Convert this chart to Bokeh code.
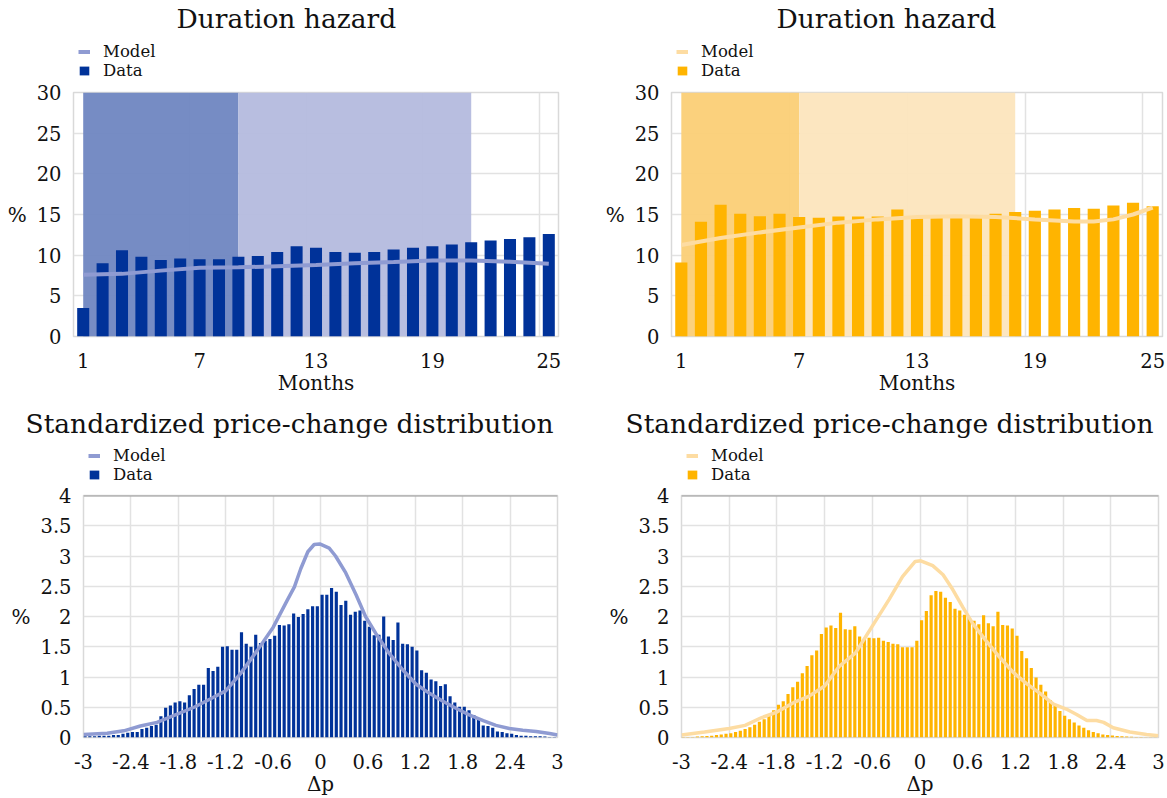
from bokeh.plotting import figure
from bokeh.layouts import column, row
from bokeh.models import Legend, LegendItem, FixedTicker, Span, Range1d
from bokeh.embed import file_html
from bokeh.resources import INLINE
import numpy as np

FONT = "DejaVu Serif"

# ---------------- data ----------------
months = list(range(1, 26))
month_ticks = [1, 7, 13, 19, 25]
month_grid = [0.5, 6.5, 12.5, 18.5, 24.5]
pct_ticks = [0, 5, 10, 15, 20, 25, 30]

# left (blue) duration hazard
hazard_data_blue = [3.5, 9.0, 10.6, 9.8, 9.4, 9.6, 9.5, 9.5, 9.8, 9.9,
                    10.4, 11.1, 10.9, 10.4, 10.3, 10.4, 10.7, 10.9, 11.1, 11.3,
                    11.6, 11.8, 12.0, 12.2, 12.6]
hazard_model_blue_x = [1, 3, 5, 7, 9, 11, 13, 15, 17, 19, 21, 23, 25]
hazard_model_blue = [7.6, 7.7, 8.1, 8.45, 8.5, 8.65, 8.8, 9.0, 9.15, 9.35, 9.35, 9.2, 8.95]
shade_blue_left = [1, 9]
shade_blue_right = [9, 21]

# right (yellow) duration hazard
hazard_data_yellow = [9.1, 14.1, 16.2, 15.1, 14.8, 15.1, 14.7, 14.6, 14.75, 14.75,
                      14.75, 15.6, 14.8, 14.75, 14.9, 14.8, 15.1, 15.3, 15.45, 15.6,
                      15.8, 15.7, 16.1, 16.45, 16.0]
hazard_model_yellow_x = [1, 3, 5, 7, 9, 11, 13, 15, 17, 19, 21, 22, 23, 24, 25]
hazard_model_yellow = [11.25, 12.1, 12.8, 13.4, 14.0, 14.4, 14.7, 14.8, 14.7, 14.4,
                       14.15, 14.15, 14.4, 15.0, 15.85]
shade_yellow_left = [1, 7]
shade_yellow_right = [7, 18]

# standardized price-change distribution
dp_ticks = [-3, -2.4, -1.8, -1.2, -0.6, 0, 0.6, 1.2, 1.8, 2.4, 3]
dp_labels = ["-3", "-2.4", "-1.8", "-1.2", "-0.6", "0", "0.6", "1.2", "1.8", "2.4", "3"]
dens_ticks = [0, 0.5, 1, 1.5, 2, 2.5, 3, 3.5, 4]
dens_labels = ["0", "0.5", "1", "1.5", "2", "2.5", "3", "3.5", "4"]
dp_bins = np.round(-2.98 + 0.06 * np.arange(100), 2)

dist_data_blue = [0.02, 0.02, 0.02, 0.03, 0.03, 0.03, 0.04, 0.04, 0.06, 0.08,
                  0.09, 0.09, 0.14, 0.16, 0.19, 0.21, 0.35, 0.49, 0.53, 0.58,
                  0.60, 0.58, 0.70, 0.80, 0.87, 0.87, 1.15, 1.10, 1.17, 1.50,
                  1.51, 1.45, 1.45, 1.74, 1.55, 1.50, 1.70, 1.56, 1.60, 1.63,
                  1.68, 1.86, 1.85, 1.87, 2.05, 1.99, 2.04, 2.12, 2.17, 2.17,
                  2.36, 2.36, 2.47, 2.41, 2.19, 2.26, 2.03, 2.08, 2.10, 1.93,
                  1.83, 1.69, 1.70, 2.00, 1.67, 1.61, 1.90, 1.55, 1.54, 1.50,
                  1.44, 1.11, 1.07, 0.96, 0.93, 0.85, 0.88, 0.68, 0.58, 0.51,
                  0.51, 0.45, 0.37, 0.32, 0.20, 0.19, 0.16, 0.10, 0.09, 0.07,
                  0.06, 0.04, 0.03, 0.03, 0.02, 0.02, 0.02, 0.015, 0.01, 0.01]
dist_model_blue_x = [-3.0, -2.70, -2.49, -2.28, -2.07, -1.86, -1.60, -1.39, -1.20, -1.01,
                     -0.80, -0.60, -0.42, -0.33, -0.25, -0.16, -0.08, -0.01, 0.11, 0.19,
                     0.32, 0.45, 0.57, 0.70, 0.87, 1.04, 1.21, 1.38, 1.55, 1.72,
                     1.89, 2.06, 2.22, 2.39, 2.56, 2.73, 2.90, 3.0]
dist_model_blue = [0.05, 0.07, 0.11, 0.19, 0.25, 0.36, 0.50, 0.64, 0.77, 1.06,
                   1.44, 1.82, 2.27, 2.49, 2.79, 3.07, 3.19, 3.20, 3.13, 3.00,
                   2.72, 2.36, 2.00, 1.72, 1.39, 1.12, 0.88, 0.73, 0.60, 0.48,
                   0.37, 0.28, 0.20, 0.15, 0.12, 0.10, 0.066, 0.04]

dist_data_yellow = [0.01, 0.01, 0.01, 0.015, 0.02, 0.025, 0.03, 0.04, 0.05, 0.06,
                    0.07, 0.09, 0.11, 0.14, 0.17, 0.21, 0.26, 0.30, 0.36, 0.45,
                    0.54, 0.60, 0.72, 0.83, 0.92, 1.06, 1.18, 1.36, 1.44, 1.71,
                    1.82, 1.85, 1.81, 2.06, 1.79, 1.78, 1.84, 1.67, 1.63, 1.65,
                    1.64, 1.65, 1.60, 1.58, 1.55, 1.54, 1.49, 1.49, 1.49, 1.60,
                    1.94, 2.09, 2.35, 2.42, 2.41, 2.31, 2.24, 2.13, 2.10, 2.03,
                    1.99, 1.93, 1.87, 2.02, 1.89, 1.84, 2.08, 1.86, 1.85, 1.80,
                    1.68, 1.43, 1.31, 1.15, 0.99, 0.87, 0.76, 0.62, 0.53, 0.44,
                    0.36, 0.30, 0.25, 0.20, 0.16, 0.12, 0.09, 0.07, 0.05, 0.04,
                    0.035, 0.025, 0.02, 0.015, 0.012, 0.01, 0.008, 0.006, 0.005, 0.004]
dist_model_yellow_x = [-3.0, -2.71, -2.4, -2.2, -1.99, -1.8, -1.57, -1.4, -1.2, -1.02,
                       -0.81, -0.6, -0.39, -0.22, -0.06, 0.01, 0.16, 0.29, 0.41, 0.54,
                       0.67, 0.83, 1.0, 1.17, 1.34, 1.51, 1.68, 1.84, 1.97, 2.1,
                       2.22, 2.31, 2.43, 2.64, 2.85, 3.0]
dist_model_yellow = [0.04, 0.09, 0.15, 0.20, 0.33, 0.42, 0.59, 0.68, 0.85, 1.17,
                     1.40, 1.84, 2.28, 2.66, 2.91, 2.92, 2.84, 2.69, 2.45, 2.15,
                     1.87, 1.60, 1.33, 1.08, 0.89, 0.73, 0.55, 0.47, 0.38, 0.28,
                     0.28, 0.25, 0.16, 0.09, 0.05, 0.03]

BLUE = "#003299"
BLUE_MODEL = "#8f9bd2"
BLUE_SHADES = ["#6f86c1", "#b4bbde"]
YELLOW = "#ffb400"
YELLOW_MODEL = "#fddca2"
YELLOW_SHADES = ["#fbcf76", "#fce5bd"]

TEXT = "#111111"


def header_fig(width, height, bl, br, title, title_offset, x, y_model, y_data, xm, bar_w,
               color, mcolor):
    """Title and legend strip drawn above a chart (its own glyphs lie outside its view)."""
    h = figure(width=width, height=height, x_range=Range1d(0, 1), y_range=Range1d(1000, 1001),
               output_backend="svg", toolbar_location=None,
               x_axis_type=None, y_axis_type=None,
               min_border_left=bl, min_border_right=br,
               min_border_top=0, min_border_bottom=0)
    h.outline_line_color = None
    h.grid.visible = False
    h.title.text = title
    h.title.align = "left"
    h.title.offset = title_offset
    h.title.standoff = 0
    h.title.text_font = FONT
    h.title.text_font_size = "26.5px"
    h.title.text_font_style = "normal"
    h.title.text_color = TEXT
    line_r = h.line(xm, y_model, line_color=mcolor, line_width=4)
    bar_r = h.vbar(x=x, top=y_data, width=bar_w, fill_color=color, line_color=None)
    lg = Legend(items=[LegendItem(label="Model", renderers=[line_r]),
                       LegendItem(label="Data", renderers=[bar_r])],
                location=(5, 0), orientation="vertical",
                border_line_color=None, background_fill_alpha=0,
                padding=0, margin=0, spacing=0,
                glyph_width=12, glyph_height=11, label_height=16,
                label_standoff=13, label_text_font=FONT,
                label_text_font_size="16.5px", label_text_color=TEXT,
                label_text_line_height=1.0)
    h.add_layout(lg)
    return h


def base_fig(width, height, x_range, y_range, bl, br, bt, bb):
    p = figure(width=width, height=height, x_range=x_range, y_range=y_range,
               output_backend="svg", toolbar_location=None,
               min_border_left=bl, min_border_right=br,
               min_border_top=bt, min_border_bottom=bb)
    p.outline_line_color = "#d9d9d9"
    p.outline_line_width = 1.5
    for ax in (p.xaxis[0], p.yaxis[0]):
        ax.axis_line_color = None
        ax.major_tick_line_color = None
        ax.minor_tick_line_color = None
        ax.major_label_text_font = FONT
        ax.major_label_text_font_size = "19.5px"
        ax.major_label_text_color = TEXT
        ax.axis_label_text_font = FONT
        ax.axis_label_text_font_style = "normal"
        ax.axis_label_text_font_size = "20px"
        ax.axis_label_text_color = TEXT
    p.xaxis.major_label_standoff = 10
    p.xaxis.axis_label_standoff = 0
    p.yaxis.major_label_standoff = 6
    p.yaxis.axis_label = "%"
    p.yaxis.axis_label_orientation = "horizontal"
    p.yaxis.axis_label_standoff = 7
    p.grid.grid_line_color = "#e2e2e2"
    p.grid.grid_line_width = 1.5
    return p


def hazard_fig(width, bl, br, data, mx, my, sl, sr, color, mcolor, shades):
    p = base_fig(width, 325, Range1d(0.5, 25.5), Range1d(0, 30), bl, br, 12, 69)
    p.quad(left=sl, right=sr, bottom=0, top=30, fill_color=shades, line_color=None,
           fill_alpha=0.95)
    p.vbar(x=months, top=data, width=0.62, fill_color=color, line_color=None)
    p.line(mx, my, line_color=mcolor, line_width=4)
    p.xaxis.ticker = FixedTicker(ticks=month_ticks)
    p.xgrid.ticker = FixedTicker(ticks=month_grid)
    p.yaxis.ticker = FixedTicker(ticks=pct_ticks)
    p.ygrid.ticker = FixedTicker(ticks=pct_ticks)
    p.xaxis.axis_label = "Months"
    return p


def dist_fig(width, bl, br, data, mx, my, color, mcolor):
    p = base_fig(width, 314, Range1d(-3, 3), Range1d(0, 4), bl, br, 11, 61)
    p.vbar(x=dp_bins, top=data, width=0.04, fill_color=color, line_color=None)
    p.line(mx, my, line_color=mcolor, line_width=3.5)
    p.xaxis.ticker = FixedTicker(ticks=dp_ticks)
    p.xgrid.ticker = FixedTicker(ticks=dp_ticks)
    p.xaxis.major_label_overrides = dict(zip(dp_ticks, dp_labels))
    p.yaxis.ticker = FixedTicker(ticks=dens_ticks)
    p.ygrid.ticker = FixedTicker(ticks=dens_ticks)
    p.yaxis.major_label_overrides = dict(zip(dens_ticks, dens_labels))
    p.xaxis.axis_label = "Δp"
    p.add_layout(Span(location=dens_ticks[-1], dimension="width",
                      line_color="#9a9a9a", line_width=2))
    return p


W_L, W_R = 590, 577

h1 = header_fig(W_L, 80, 73, 32, "Duration hazard", 103, months, hazard_model_blue,
                hazard_data_blue, hazard_model_blue_x, 0.62, BLUE, BLUE_MODEL)
p1 = hazard_fig(W_L, 73, 32, hazard_data_blue, hazard_model_blue_x, hazard_model_blue,
                shade_blue_left, shade_blue_right, BLUE, BLUE_MODEL, BLUE_SHADES)
h2 = header_fig(W_R, 80, 81, 5, "Duration hazard", 105, months, hazard_model_yellow,
                hazard_data_yellow, hazard_model_yellow_x, 0.62, YELLOW, YELLOW_MODEL)
p2 = hazard_fig(W_R, 81, 5, hazard_data_yellow, hazard_model_yellow_x, hazard_model_yellow,
                shade_yellow_left, shade_yellow_right, YELLOW, YELLOW_MODEL, YELLOW_SHADES)
h3 = header_fig(W_L, 79, 83, 33, "Standardized price-change distribution", -58, dp_bins,
                dist_model_blue, dist_data_blue, dist_model_blue_x, 0.04, BLUE, BLUE_MODEL)
p3 = dist_fig(W_L, 83, 33, dist_data_blue, dist_model_blue_x, dist_model_blue,
              BLUE, BLUE_MODEL)
h4 = header_fig(W_R, 79, 91, 9, "Standardized price-change distribution", -56, dp_bins,
                dist_model_yellow, dist_data_yellow, dist_model_yellow_x, 0.04, YELLOW,
                YELLOW_MODEL)
p4 = dist_fig(W_R, 91, 9, dist_data_yellow, dist_model_yellow_x, dist_model_yellow,
              YELLOW, YELLOW_MODEL)

layout = column(row(column(h1, p1), column(h2, p2)),
                row(column(h3, p3), column(h4, p4)))
open("out.html", "w").write(file_html(layout, INLINE))
